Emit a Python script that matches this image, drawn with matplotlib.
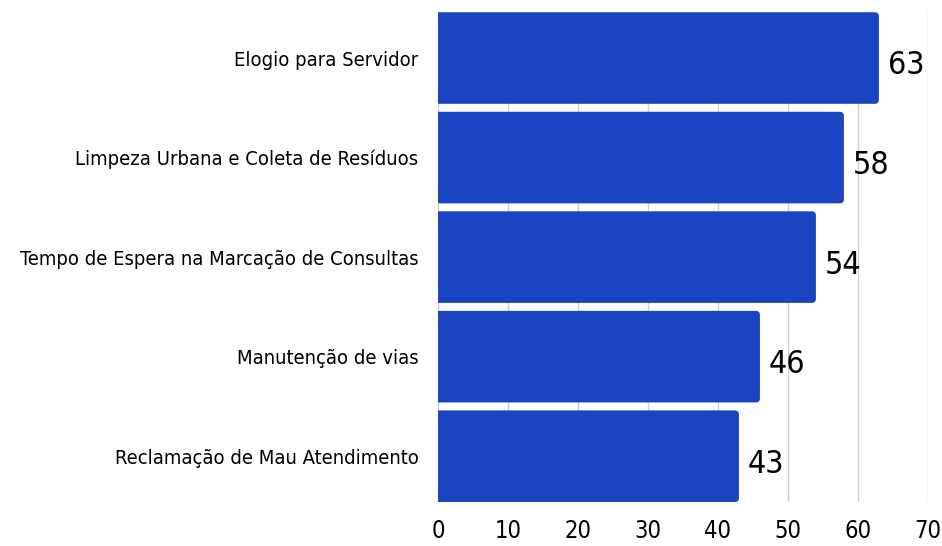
# Horizontal bar chart: top categories
import matplotlib.pyplot as plt
from matplotlib.patches import FancyBboxPatch

categories = ['Elogio para Servidor',
              'Limpeza Urbana e Coleta de Resíduos',
              'Tempo de Espera na Marcação de Consultas',
              'Manutenção de vias',
              'Reclamação de Mau Atendimento']
values = [63, 58, 54, 46, 43]
xticks = [0, 10, 20, 30, 40, 50, 60, 70]

plt.rcParams['font.family'] = ['DejaVu Sans']
plt.rcParams['font.stretch'] = 'condensed'

fig = plt.figure(figsize=(9.42, 5.46), dpi=100)
ax = fig.add_axes([0.465, 0.0806, 0.52, 0.897])

y = list(range(len(categories)))
bars = ax.barh(y, values, height=0.92, color='#1b44c0', zorder=2)

# swap plain bars for ones with rounded right corners (left side hidden past x=0)
for b in bars:
    x0, y0, w, h = b.get_x(), b.get_y(), b.get_width(), b.get_height()
    b.set_visible(False)
    ax.add_patch(FancyBboxPatch((x0 - 1, y0), w + 1, h,
                                boxstyle='round,pad=0,rounding_size=0.6',
                                mutation_aspect=0.067, fc='#1b44c0', ec='none', zorder=2))

for yi, v in zip(y, values):
    ax.text(v + 1.3, yi + 0.08, str(v), va='center', ha='left', fontsize=23, color='black')

ax.set_ylim(len(categories) - 0.54, -0.46)
ax.set_xlim(0, 70)
ax.set_yticks(y)
ax.set_yticklabels(categories, fontsize=14.5)
ax.set_xticks(xticks)
ax.set_xticklabels([str(t) for t in xticks], fontsize=17)
ax.tick_params(axis='both', length=0)
ax.tick_params(axis='y', pad=14)
ax.tick_params(axis='x', pad=12)
ax.grid(axis='x', color='#d0d0d0', linewidth=1, zorder=0)
for s in ax.spines.values():
    s.set_visible(False)

fig.savefig('out.png', dpi=100)
